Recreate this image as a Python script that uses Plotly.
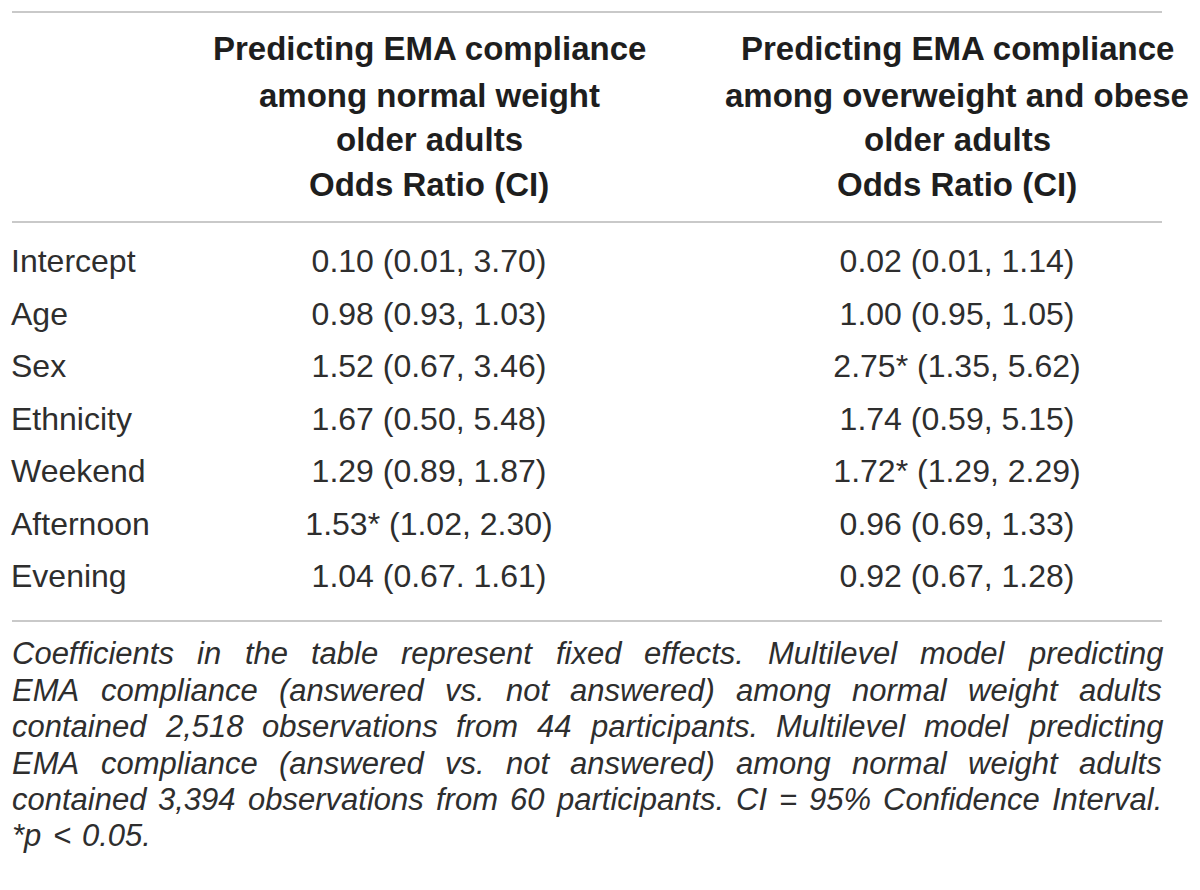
import plotly.graph_objects as go

# ---------------- data ----------------
row_labels = ["Intercept", "Age", "Sex", "Ethnicity", "Weekend", "Afternoon", "Evening"]
normal_weight = [
    "0.10 (0.01, 3.70)",
    "0.98 (0.93, 1.03)",
    "1.52 (0.67, 3.46)",
    "1.67 (0.50, 5.48)",
    "1.29 (0.89, 1.87)",
    "1.53* (1.02, 2.30)",
    "1.04 (0.67. 1.61)",
]
overweight_obese = [
    "0.02 (0.01, 1.14)",
    "1.00 (0.95, 1.05)",
    "2.75* (1.35, 5.62)",
    "1.74 (0.59, 5.15)",
    "1.72* (1.29, 2.29)",
    "0.96 (0.69, 1.33)",
    "0.92 (0.67, 1.28)",
]
header_normal = ["Predicting EMA compliance", "among normal weight", "older adults", "Odds Ratio (CI)"]
header_overweight = ["Predicting EMA compliance", "among overweight and obese", "older adults", "Odds Ratio (CI)"]
footnote_lines = [
    "Coefficients in the table represent fixed effects. Multilevel model predicting",
    "EMA compliance (answered vs. not answered) among normal weight adults",
    "contained 2,518 observations from 44 participants. Multilevel model predicting",
    "EMA compliance (answered vs. not answered) among normal weight adults",
    "contained 3,394 observations from 60 participants. CI = 95% Confidence Interval.",
    "*p < 0.05.",
]

# ---------------- layout constants ----------------
W, H = 1200, 890
FONT = "Liberation Sans, Arial, sans-serif"
TXT = "#2e2e2e"
HEAD = "#1e1e1e"
LINE = "#c9c9c9"
FS = 32
FS_HEAD = 33
FS_FOOT = 31
LEFT, RIGHT = 12, 1162
COL1, COL2 = 429, 957
ROW_TOP, ROW_STEP = 264, 52.5


def py(y):  # pixel from top -> paper fraction
    return 1 - y / H


# Arial / Liberation Sans advance widths (1/1000 em)
AW = {
    ' ': 278, 'a': 556, 'b': 556, 'c': 500, 'd': 556, 'e': 556, 'f': 278, 'g': 556, 'h': 556,
    'i': 222, 'j': 222, 'k': 500, 'l': 222, 'm': 833, 'n': 556, 'o': 556, 'p': 556, 'q': 556,
    'r': 333, 's': 500, 't': 278, 'u': 556, 'v': 500, 'w': 722, 'x': 500, 'y': 500, 'z': 500,
    'A': 667, 'B': 667, 'C': 722, 'D': 722, 'E': 667, 'F': 611, 'G': 778, 'H': 722, 'I': 278,
    'M': 833, 'N': 722, 'O': 778, 'P': 667, 'S': 667, 'T': 611,
    '0': 556, '1': 556, '2': 556, '3': 556, '4': 556, '5': 556, '6': 556, '7': 556, '8': 556,
    '9': 556, ',': 278, '.': 278, '(': 333, ')': 333, '=': 584, '%': 889, '*': 389, '<': 584,
}


def text_width(s, size):
    return sum(AW.get(ch, 556) for ch in s) / 1000 * size


fig = go.Figure()

n = len(row_labels)
row_y = list(range(n))

fig.add_trace(go.Scatter(
    x=[LEFT - 1] * n, y=row_y, text=row_labels, mode="text",
    textposition="middle right",
    textfont=dict(family=FONT, size=FS, color=TXT),
    hoverinfo="skip", showlegend=False,
))
fig.add_trace(go.Scatter(
    x=[COL1] * n, y=row_y, text=normal_weight, mode="text",
    textposition="middle center",
    textfont=dict(family=FONT, size=FS, color=TXT),
    hoverinfo="skip", showlegend=False,
))
fig.add_trace(go.Scatter(
    x=[COL2] * n, y=row_y, text=overweight_obese, mode="text",
    textposition="middle center",
    textfont=dict(family=FONT, size=FS, color=TXT),
    hoverinfo="skip", showlegend=False,
))

band_top = ROW_TOP - ROW_STEP / 2
band_bot = band_top + ROW_STEP * n
annotations = []

# header
head_y = [49, 95, 140, 185]
for lines, cx in ((header_normal, COL1), (header_overweight, COL2)):
    for t, yy in zip(lines, head_y):
        annotations.append(dict(
            x=cx, y=py(yy), xref="x", yref="paper", text=t, showarrow=False,
            xanchor="center", yanchor="middle",
            font=dict(family=FONT, size=FS_HEAD, color=HEAD, weight="bold"),
        ))

# justified footnote
foot_y = [653, 690, 726, 763, 799, 835]
for i, (line, yy) in enumerate(zip(footnote_lines, foot_y)):
    words = line.split(" ")
    widths = [text_width(w, FS_FOOT) for w in words]
    last = i == len(footnote_lines) - 1
    if last or len(words) == 1:
        gap = text_width(" ", FS_FOOT) * 1.3
    else:
        gap = (RIGHT - LEFT - sum(widths)) / (len(words) - 1)
    x = LEFT
    for w, wd in zip(words, widths):
        annotations.append(dict(
            x=x - 1, y=py(yy), xref="x", yref="paper", text=w, showarrow=False,
            xanchor="left", yanchor="middle", borderpad=0,
            font=dict(family=FONT, size=FS_FOOT, color=TXT, style="italic"),
        ))
        x += wd + gap

shapes = []
for yy in (12, 222, 621):
    shapes.append(dict(type="line", xref="x", yref="paper", x0=LEFT, x1=RIGHT,
                       y0=py(yy), y1=py(yy), line=dict(color=LINE, width=2)))

fig.update_layout(
    width=W, height=H,
    margin=dict(l=0, r=0, t=0, b=0),
    paper_bgcolor="white", plot_bgcolor="white",
    xaxis=dict(range=[0, W], visible=False, fixedrange=True),
    yaxis=dict(range=[n - 0.5, -0.5], visible=False, fixedrange=True,
               domain=[py(band_bot), py(band_top)]),
    annotations=annotations,
    shapes=shapes,
    showlegend=False,
)

fig.write_html(
    "out.html",
    config={"displayModeBar": False, "staticPlot": True},
    post_script="document.body.style.margin='0';document.body.style.overflow='hidden';",
)
